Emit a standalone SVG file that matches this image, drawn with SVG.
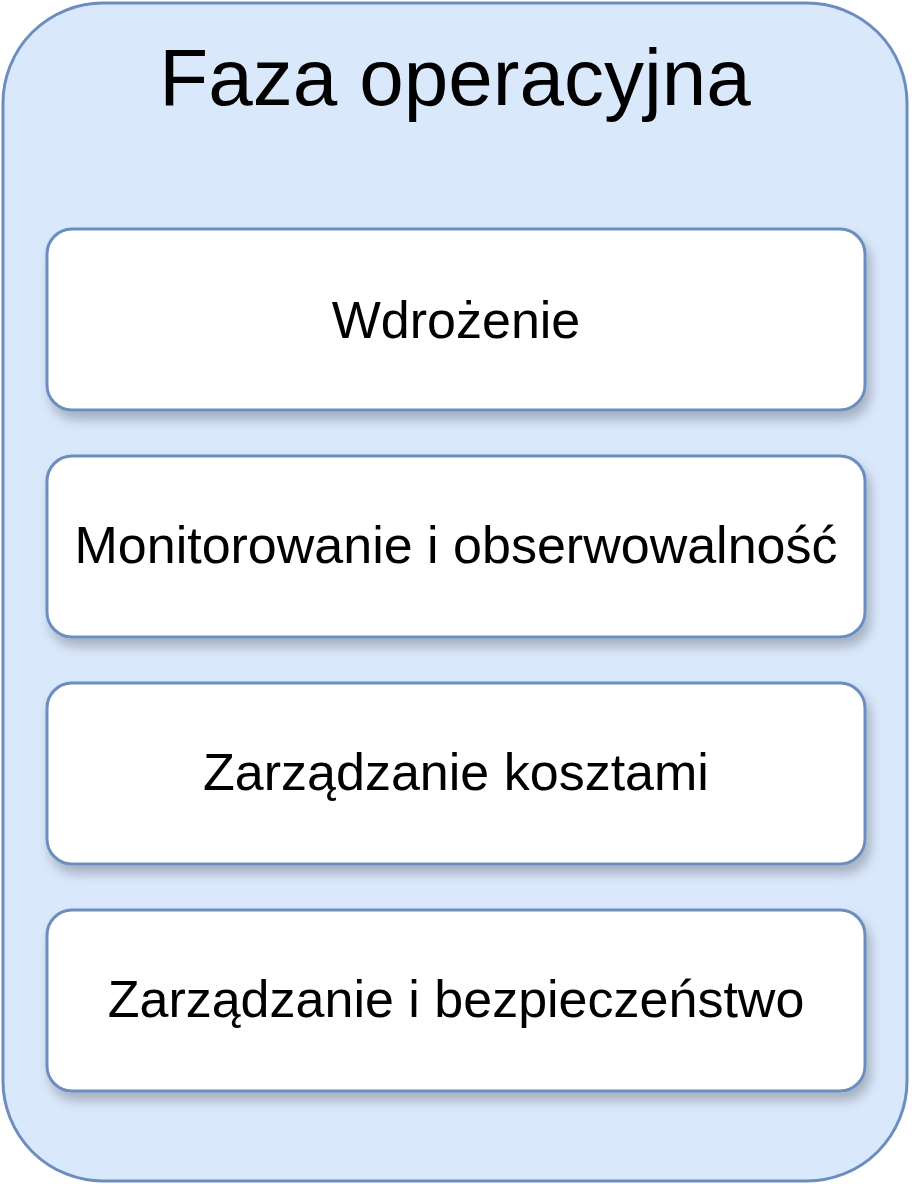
<svg xmlns="http://www.w3.org/2000/svg" width="912" height="1184" viewBox="0 0 912 1184">
<defs>
<filter id="sh" x="-10%" y="-20%" width="130%" height="150%">
<feGaussianBlur in="SourceAlpha" stdDeviation="6"/>
<feOffset dx="4" dy="8" result="b"/>
<feComponentTransfer><feFuncA type="linear" slope="0.25"/></feComponentTransfer>
<feMerge><feMergeNode/><feMergeNode in="SourceGraphic"/></feMerge>
</filter>
<style>
.outer{fill:#dae8fc;stroke:#6c8ebf;stroke-width:3}
.box{fill:#ffffff;stroke:#6c8ebf;stroke-width:3;filter:url(#sh)}
.t{font-family:"Liberation Sans",Arial,sans-serif;fill:#000;text-anchor:middle}
.title{font-size:80px}
.lbl{font-size:52px}
</style>
</defs>
<g id="faza">
<rect class="outer" x="3" y="3" width="904" height="1178" rx="100"/>
<text class="t title" x="455" y="105">Faza operacyjna</text>
</g>
<g id="connectors"/>
<g id="wdrozenie">
<rect class="box" x="47" y="229" width="818" height="181" rx="25"/>
<text class="t lbl" x="456" y="338">Wdrożenie</text>
</g>
<g id="monitorowanie">
<rect class="box" x="47" y="456" width="818" height="181" rx="25"/>
<text class="t lbl" x="456" y="563">Monitorowanie i obserwowalność</text>
</g>
<g id="koszty">
<rect class="box" x="47" y="683" width="818" height="181" rx="25"/>
<text class="t lbl" x="456" y="790">Zarządzanie kosztami</text>
</g>
<g id="bezpieczenstwo">
<rect class="box" x="47" y="910" width="818" height="181" rx="25"/>
<text class="t lbl" x="456" y="1017">Zarządzanie i bezpieczeństwo</text>
</g>
</svg>
